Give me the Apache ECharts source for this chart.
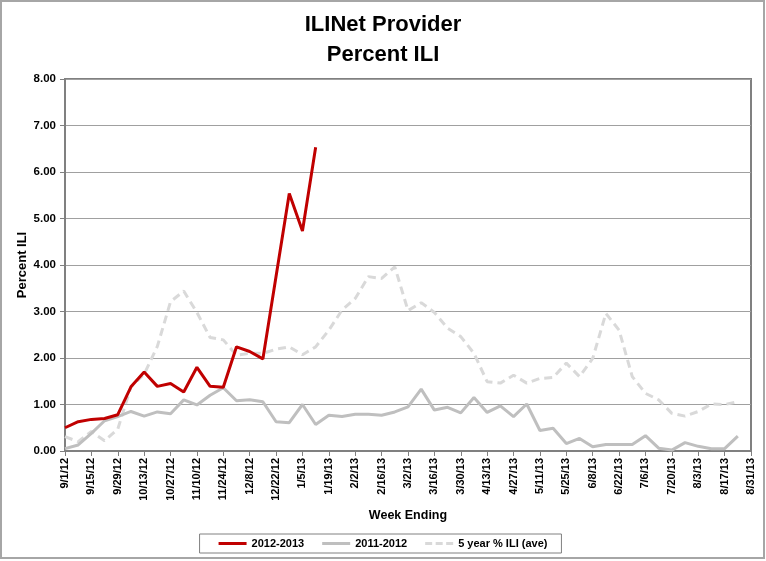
<!DOCTYPE html>
<html>
<head>
<meta charset="utf-8">
<title>ILINet Provider Percent ILI</title>
<script src="https://cdn.jsdelivr.net/npm/echarts@6/dist/echarts.min.js"></script>
<style>
  html, body { margin: 0; padding: 0; background: #fff; }
  #chart { width: 766px; height: 561px; }
</style>
</head>
<body>
<div id="chart"></div>
<script>
// week ending dates, 2012-2013 season
const weeks = [
    '9/1/12', '9/8/12', '9/15/12', '9/22/12', '9/29/12', '10/6/12', '10/13/12', '10/20/12', '10/27/12',
    '11/3/12', '11/10/12', '11/17/12', '11/24/12', '12/1/12', '12/8/12', '12/15/12', '12/22/12', '12/29/12',
    '1/5/13', '1/12/13', '1/19/13', '1/26/13', '2/2/13', '2/9/13', '2/16/13', '2/23/13', '3/2/13',
    '3/9/13', '3/16/13', '3/23/13', '3/30/13', '4/6/13', '4/13/13', '4/20/13', '4/27/13', '5/4/13',
    '5/11/13', '5/18/13', '5/25/13', '6/1/13', '6/8/13', '6/15/13', '6/22/13', '6/29/13', '7/6/13',
    '7/13/13', '7/20/13', '7/27/13', '8/3/13', '8/10/13', '8/17/13', '8/24/13', '8/31/13'
];

const season1213 = [
    0.50, 0.63, 0.68, 0.70, 0.78, 1.38, 1.70, 1.39, 1.45, 1.27,
    1.80, 1.39, 1.37, 2.24, 2.14, 1.98, 3.76, 5.54, 4.73, 6.53
];

const season1112 = [
    0.05, 0.13, 0.38, 0.65, 0.74, 0.85, 0.75, 0.84, 0.80, 1.10,
    0.99, 1.20, 1.36, 1.08, 1.10, 1.06, 0.63, 0.61, 1.00, 0.57,
    0.77, 0.74, 0.79, 0.79, 0.77, 0.84, 0.95, 1.33, 0.88, 0.94,
    0.82, 1.15, 0.83, 0.97, 0.74, 1.01, 0.44, 0.49, 0.16, 0.27,
    0.09, 0.14, 0.14, 0.14, 0.33, 0.06, 0.02, 0.18, 0.10, 0.05,
    0.05, 0.32
];

const fiveYearAvg = [
    0.31, 0.20, 0.42, 0.22, 0.47, 1.38, 1.65, 2.25, 3.21, 3.44,
    2.98, 2.44, 2.39, 2.06, 2.10, 2.10, 2.19, 2.24, 2.07, 2.24,
    2.60, 3.03, 3.28, 3.75, 3.71, 3.96, 3.02, 3.19, 2.98, 2.64,
    2.46, 2.10, 1.49, 1.46, 1.63, 1.46, 1.56, 1.58, 1.89, 1.60,
    1.99, 2.96, 2.60, 1.60, 1.24, 1.10, 0.81, 0.75, 0.85, 1.01,
    1.00, 1.06
];

const yTicks = ['0.00', '1.00', '2.00', '3.00', '4.00', '5.00', '6.00', '7.00', '8.00'];

const FONT = '"Liberation Sans", Arial, sans-serif';

// legend icons: plain line, and a dashed one for the 5 year average
const LINE_ICON = 'path://M0,0h28v3h-28z';
const DASH_ICON = 'path://M0,0h7v3h-7z M10.5,0h7v3h-7z M21,0h7v3h-7z';

const chart = echarts.init(document.getElementById('chart'));

const option = {
    backgroundColor: '#fff',
    animation: false,
    textStyle: { fontFamily: FONT },
    title: {
        text: 'ILINet Provider\nPercent ILI',
        left: 'center',
        top: 5,
        textStyle: {
            fontFamily: FONT,
            fontSize: 22,
            fontWeight: 'bold',
            color: '#000',
            lineHeight: 30
        }
    },
    graphic: [{
        type: 'rect',
        shape: { x: 1, y: 1, width: 763, height: 557 },
        style: { fill: 'none', stroke: '#a6a6a6', lineWidth: 2 },
        silent: true
    }],
    grid: {
        left: 65,
        right: 15,
        top: 79,
        bottom: 110,
        show: true,
        borderColor: '#808080',
        borderWidth: 2
    },
    legend: {
        bottom: 8,
        left: 'center',
        itemWidth: 28,
        itemHeight: 3,
        itemGap: 18,
        borderColor: '#808080',
        borderWidth: 1,
        padding: [4, 14, 4, 19],
        textStyle: { fontFamily: FONT, fontSize: 11, color: '#000', fontWeight: 'bold' },
        data: [
            { name: '2012-2013', icon: LINE_ICON },
            { name: '2011-2012', icon: LINE_ICON },
            { name: '5 year % ILI (ave)', icon: DASH_ICON }
        ]
    },
    xAxis: {
        type: 'category',
        data: weeks,
        boundaryGap: false,
        name: 'Week Ending',
        nameLocation: 'middle',
        nameGap: 56,
        nameTextStyle: { fontFamily: FONT, fontSize: 12.5, fontWeight: 'bold', color: '#000' },
        axisLine: { lineStyle: { color: '#808080', width: 2 } },
        axisTick: { show: true, interval: 1, length: 5, lineStyle: { color: '#808080' } },
        axisLabel: {
            interval: 1,
            rotate: 90,
            fontFamily: FONT,
            fontSize: 11,
            fontWeight: 'bold',
            color: '#000',
            margin: 7
        },
        splitLine: { show: false }
    },
    yAxis: {
        type: 'value',
        min: 0,
        max: 8,
        interval: 1,
        name: 'Percent ILI',
        nameLocation: 'middle',
        nameGap: 36,
        nameRotate: 90,
        nameMoveOverlap: false,
        nameTextStyle: { fontFamily: FONT, fontSize: 13, fontWeight: 'bold', color: '#000' },
        axisLine: { show: true, lineStyle: { color: '#808080', width: 2 } },
        axisTick: { show: true, length: 5, lineStyle: { color: '#808080' } },
        axisLabel: {
            fontFamily: FONT,
            fontSize: 11.5,
            fontWeight: 'bold',
            color: '#000',
            margin: 9,
            formatter: value => yTicks[value]
        },
        splitLine: { lineStyle: { color: '#a0a0a0', width: 1 } }
    },
    series: [
        {
            name: '5 year % ILI (ave)',
            type: 'line',
            data: fiveYearAvg,
            symbol: 'none',
            z: 2,
            lineStyle: { color: '#d9d9d9', width: 3, type: [8, 5] },
            itemStyle: { color: '#d9d9d9' }
        },
        {
            name: '2011-2012',
            type: 'line',
            data: season1112,
            symbol: 'none',
            z: 3,
            lineStyle: { color: '#bfbfbf', width: 3 },
            itemStyle: { color: '#bfbfbf' }
        },
        {
            name: '2012-2013',
            type: 'line',
            data: season1213,
            symbol: 'none',
            z: 4,
            lineStyle: { color: '#c00000', width: 3 },
            itemStyle: { color: '#c00000' }
        }
    ]
};

chart.setOption(option);
</script>
</body>
</html>
